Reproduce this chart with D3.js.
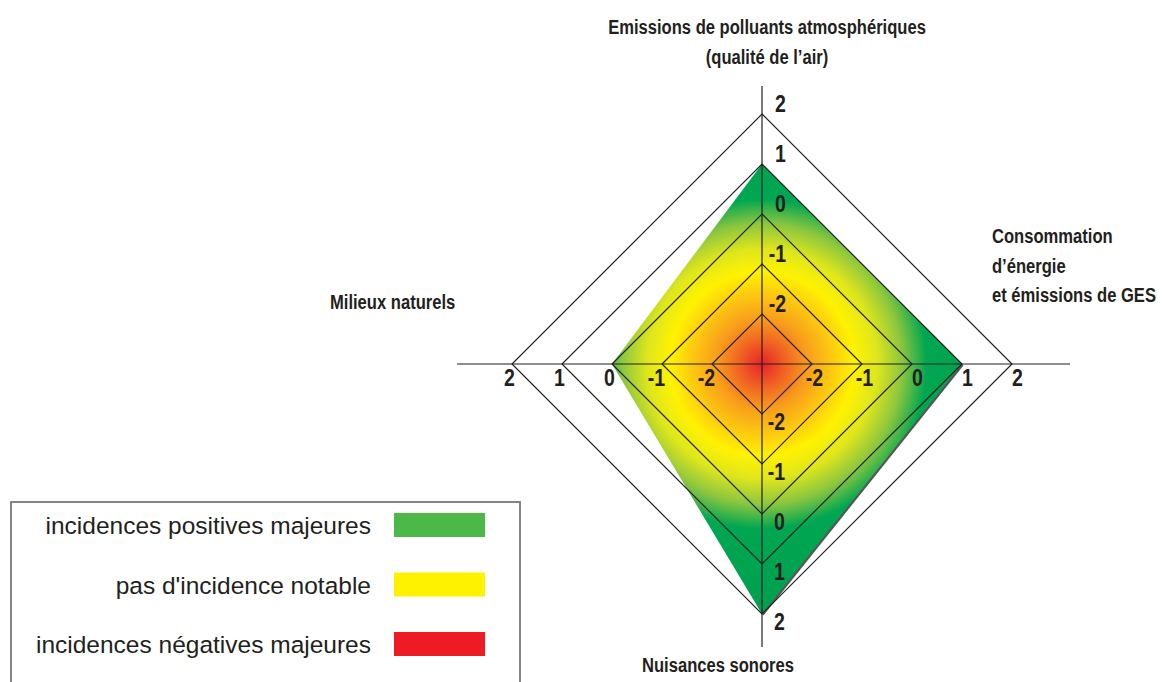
<!DOCTYPE html>
<html><head><meta charset="utf-8">
<script src="https://cdn.jsdelivr.net/npm/d3@7"></script>
<style>
body{margin:0;background:#fff;}
svg{display:block;}
.cond{font-family:"Liberation Sans",Arial,sans-serif;font-weight:bold;fill:#231f20;}
.leg{font-family:"Liberation Sans",Arial,sans-serif;fill:#231f20;}
</style></head>
<body>
<script>
// ---- data ----
const axesNames = ["Emissions de polluants atmosphériques\n(qualité de l’air)",
                   "Consommation\nd’énergie\net émissions de GES",
                   "Nuisances sonores",
                   "Milieux naturels"];
const scores = [1, 1, 2, 0];           // top, right, bottom, left
const tickValues = [-2, -1, 0, 1, 2];
const legendLabels = ["incidences positives majeures", "pas d'incidence notable", "incidences négatives majeures"];
const legendColors = ["#4cb848", "#fff200", "#ed1c24"];

// ---- layout ----
const W = 1165, H = 682;
const cx = 762, cy = 364;
const angles = [-90, 0, 90, 180].map(a => a * Math.PI / 180);
const r = d3.scaleLinear().domain([-3, 2]).range([0, 250]);
const axisExt = [278, 308, 283, 305];

const svg = d3.select("body").append("svg").attr("width", W).attr("height", H);
const defs = svg.append("defs");
const grad = defs.append("radialGradient").attr("id", "g")
  .attr("gradientUnits", "userSpaceOnUse").attr("cx", cx).attr("cy", cy).attr("r", 250);
const stops = [[0, "#e62129"], [20, "#ef5a24"], [45, "#f89c1c"], [70, "#fcc910"], [92, "#fff200"],
               [115, "#dfe61c"], [140, "#8cc63f"], [165, "#00a651"], [250, "#00a04e"]];
grad.selectAll("stop").data(stops).join("stop")
  .attr("offset", d => d[0] / 250).attr("stop-color", d => d[1]);

const pt = (v, i) => [cx + r(v) * Math.cos(angles[i]), cy + r(v) * Math.sin(angles[i])];
const line = d3.line().curve(d3.curveLinearClosed);

// data polygon shadow + fill
const polyPts = scores.map((v, i) => pt(v, i));
svg.append("path").attr("d", line(polyPts)).attr("fill", "#555").attr("transform", "translate(1.5,1.5)");
svg.append("path").attr("d", line(polyPts)).attr("fill", "url(#g)");

// grid diamonds
svg.append("g").selectAll("path").data(tickValues).join("path")
  .attr("d", v => line(angles.map((a, i) => pt(v, i))))
  .attr("fill", "none").attr("stroke", "#231f20").attr("stroke-width", 1.2);

// axes
svg.append("g").selectAll("line").data(angles).join("line")
  .attr("x1", cx).attr("y1", cy)
  .attr("x2", (a, i) => cx + axisExt[i] * Math.cos(a))
  .attr("y2", (a, i) => cy + axisExt[i] * Math.sin(a))
  .attr("stroke", "#231f20").attr("stroke-width", 1.2);

function condText(g, x, y, str, anchor, size, sx) {
  return g.append("text").attr("class", "cond")
    .attr("transform", `translate(${x},${y}) scale(${sx},1)`)
    .attr("text-anchor", anchor).style("font-size", size + "px").text(str);
}

// tick labels
const tickFmt = v => (v < 0 ? "-" : "") + Math.abs(v);
const tg = svg.append("g");
const TS = 23, TX = 0.85;
tickValues.forEach(v => {
  condText(tg, cx + 24, cy - r(v) - 2, tickFmt(v), "end", TS, TX);
  condText(tg, cx + r(v) + 11, cy + 22, tickFmt(v), "end", TS, TX);
  condText(tg, cx + 23, cy + r(v) + 16, tickFmt(v), "end", TS, TX);
  condText(tg, cx - r(v) + 3, cy + 22, tickFmt(v), "end", TS, TX);
});

// category labels
const catPos = [
  {x: 767, y: 34, anchor: "middle", lh: 30},
  {x: 992, y: 243, anchor: "start", lh: 29.5},
  {x: 642, y: 672, anchor: "start", lh: 30},
  {x: 330, y: 309, anchor: "start", lh: 30}
];
const cg = svg.append("g");
axesNames.forEach((name, i) => {
  const p = catPos[i];
  name.split("\n").forEach((ln, j) => condText(cg, p.x, p.y + j * p.lh, ln, p.anchor, 21, 0.79));
});

// legend
const lg = svg.append("g");
lg.append("rect").attr("x", 11).attr("y", 502).attr("width", 509).attr("height", 200)
  .attr("fill", "#fff").attr("stroke", "#777").attr("stroke-width", 1.8);
const ly = d3.scalePoint().domain(legendLabels).range([525, 644]);
lg.selectAll("rect.sw").data(legendLabels).join("rect").attr("class", "sw")
  .attr("x", 394).attr("y", d => ly(d) - 12).attr("width", 91).attr("height", 24)
  .attr("fill", (d, i) => legendColors[i]);
lg.selectAll("text").data(legendLabels).join("text").attr("class", "leg")
  .attr("x", 371).attr("y", d => ly(d) + 9).attr("text-anchor", "end")
  .style("font-size", "24.5px").text(d => d);
</script>
</body></html>
